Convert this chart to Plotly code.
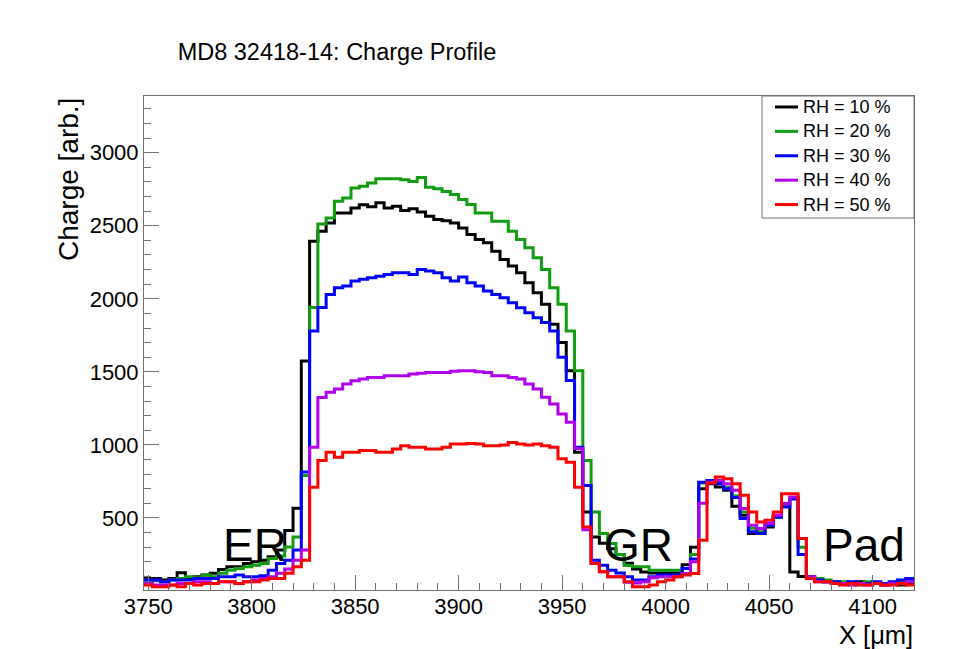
import numpy as np
import plotly.graph_objects as go

# Histogram binning (um)
x_low = 3748.0
bin_width = 4.0

# Charge per bin for each relative-humidity run
charge_rh10 = [86, 86, 75, 86, 125, 86, 98, 110, 121, 148, 166, 166, 189, 200, 211, 234, 280, 415, 566, 1575, 2394,
               2462, 2519, 2587, 2587, 2621, 2644, 2630, 2657, 2621, 2634, 2605, 2616, 2594, 2565, 2543, 2535, 2519,
               2485, 2440, 2406, 2383, 2326, 2269, 2224, 2178, 2110, 2042, 1963, 1826, 1701, 1508, 950,
               541, 370, 327, 290, 250, 190, 150, 130, 123, 123, 123, 123, 180, 300,
               700, 735, 712, 690, 580, 518, 393, 393, 439, 507, 598, 130, 100, 90,
               75, 64, 64, 52, 52, 64, 52, 52, 41, 52, 41, 52]
charge_rh20 = [75, 70, 64, 75, 86, 98, 90, 110, 98, 121, 143, 155, 166, 177, 189, 222, 240, 302, 370, 791, 1940,
               2512, 2553, 2667, 2690, 2758, 2770, 2792, 2822, 2822, 2822, 2815, 2803, 2831, 2763, 2754, 2735, 2713,
               2679, 2645, 2588, 2588, 2531, 2531, 2462, 2406, 2349, 2281, 2201, 2076, 1963, 1780, 1508,
               893, 541, 393, 325, 250, 175, 166, 166, 143, 143, 143, 143, 155, 250,
               740, 757, 740, 710, 650, 540, 430, 405, 450, 507, 590, 640, 300, 100,
               86, 75, 64, 64, 52, 52, 64, 52, 52, 52, 64, 75]
charge_rh30 = [75, 75, 64, 75, 75, 75, 86, 86, 86, 98, 98, 110, 98, 98, 105, 143, 189, 211, 280, 814, 1780,
               1940, 2030, 2076, 2087, 2121, 2133, 2144, 2155, 2167, 2178, 2178, 2167, 2201, 2190, 2178, 2144, 2121,
               2150, 2110, 2087, 2053, 2030, 2008, 1973, 1939, 1905, 1870, 1837, 1780, 1600, 1440, 984,
               723, 211, 177, 143, 123, 98, 75, 75, 98, 109, 109, 109, 155, 220,
               745, 757, 735, 700, 640, 496, 405, 393, 450, 507, 575, 630, 250, 98,
               75, 64, 64, 52, 64, 52, 52, 64, 52, 64, 75, 86]
charge_rh40 = [52, 41, 41, 41, 52, 52, 64, 64, 52, 64, 64, 52, 64, 75, 86, 98, 121, 150, 211, 280, 984,
               1325, 1360, 1383, 1417, 1439, 1451, 1462, 1462, 1473, 1473, 1473, 1485, 1490, 1496, 1496, 1496, 1505,
               1508, 1508, 1500, 1496, 1473, 1473, 1462, 1451, 1417, 1383, 1326, 1280, 1212, 1155, 975,
               420, 189, 132, 98, 98, 60, 55, 64, 90, 98, 98, 98, 120, 200,
               600, 745, 757, 735, 690, 564, 450, 428, 462, 518, 598, 643, 360, 98,
               64, 64, 52, 52, 41, 52, 41, 52, 41, 52, 52, 64]
charge_rh50 = [41, 30, 30, 41, 30, 52, 41, 52, 52, 64, 64, 52, 64, 64, 75, 86, 86, 121, 166, 211, 711,
               893, 950, 916, 950, 950, 961, 961, 950, 950, 972, 995, 984, 984, 972, 972, 984, 1006,
               1006, 1010, 1006, 995, 995, 1000, 1016, 1006, 1000, 1006, 995, 984, 905, 882, 711,
               439, 189, 132, 98, 98, 64, 30, 30, 41, 64, 75, 98, 109, 120,
               348, 740, 780, 769, 735, 655, 541, 473, 485, 541, 666, 666, 360, 86,
               64, 64, 52, 41, 52, 41, 41, 52, 41, 41, 52, 41]

series_names = ["RH = 10 %", "RH = 20 %", "RH = 30 %", "RH = 40 %", "RH = 50 %"]
series_values = [charge_rh10, charge_rh20, charge_rh30, charge_rh40, charge_rh50]
series_colors = ["#000000", "#119c11", "#0000ff", "#b000ee", "#ff0000"]

# Region labels placed on the profile
region_labels = ["ER", "GR", "Pad"]
region_x = [3785, 3969.5, 4075]
region_y = [318, 318, 318]

FONT = "Liberation Sans, Arial, Helvetica, sans-serif"
AXIS_GRAY = "#707070"

fig = go.Figure()
for name, vals, col in zip(series_names, series_values, series_colors):
    edges = x_low + bin_width * np.arange(len(vals) + 1)
    fig.add_trace(go.Scatter(
        x=edges, y=list(vals) + [vals[-1]],
        mode="lines", line=dict(shape="hv", color=col, width=3),
        name=name, showlegend=False,
    ))

for txt, xv, yv in zip(region_labels, region_x, region_y):
    fig.add_annotation(x=xv, y=yv, xref="x", yref="y", text=txt, showarrow=False,
                       xanchor="left", yanchor="middle",
                       font=dict(family=FONT, size=46, color="black"))

# Legend box (ROOT TLegend style) in the top-right corner of the frame
leg_x0, leg_x1, leg_y0, leg_y1 = 0.8026, 1.0, 0.753, 1.0
fig.add_shape(type="rect", xref="paper", yref="paper", x0=leg_x0, x1=leg_x1, y0=leg_y0, y1=leg_y1,
              line=dict(color=AXIS_GRAY, width=1), fillcolor="white", layer="above")
row_step = (leg_y1 - leg_y0) / 5.0
for k, (name, col) in enumerate(zip(series_names, series_colors)):
    yk = leg_y1 - (k + 0.5) * row_step + 0.0025
    fig.add_shape(type="line", xref="paper", yref="paper", x0=0.8195, x1=0.8494, y0=yk, y1=yk,
                  line=dict(color=col, width=3), layer="above")
    fig.add_annotation(x=0.8535, y=yk, xref="paper", yref="paper", text=name, showarrow=False,
                       xanchor="left", yanchor="middle",
                       font=dict(family=FONT, size=18, color="black"))

axis_common = dict(
    showline=True, linecolor=AXIS_GRAY, linewidth=1, mirror=True,
    ticks="inside", tickcolor=AXIS_GRAY, tickwidth=1, ticklen=15,
    showgrid=False, zeroline=False,
    tickfont=dict(family=FONT, size=22, color="black"),
)

fig.update_xaxes(range=[3748, 4120], tickmode="linear", tick0=3750, dtick=50,
                 ticklabelstandoff=-3,
                 minor=dict(dtick=10, tick0=3750, ticks="inside", ticklen=7,
                            tickcolor=AXIS_GRAY, showgrid=False),
                 **axis_common)
fig.update_yaxes(range=[7, 3388], tickmode="linear", tick0=0, dtick=500,
                 minor=dict(dtick=100, tick0=0, ticks="inside", ticklen=7,
                            tickcolor=AXIS_GRAY, showgrid=False),
                 **axis_common)

# Axis titles
fig.add_annotation(x=-0.098, y=1.0, xref="paper", yref="paper", text="Charge [arb.]",
                   textangle=-90, showarrow=False, xanchor="center", yanchor="top",
                   font=dict(family=FONT, size=28, color="black"))
fig.add_annotation(x=1.0, y=-0.091, xref="paper", yref="paper", text="X [μm]",
                   showarrow=False, xanchor="right", yanchor="middle", borderpad=0,
                   font=dict(family=FONT, size=25.5, color="black"))

fig.update_layout(
    width=975, height=649,
    margin=dict(l=144, r=61, t=96, b=59),
    paper_bgcolor="white", plot_bgcolor="white",
    title=dict(text="MD8 32418-14: Charge Profile", x=337 / 975, xanchor="center",
               xref="container", y=1 - 52 / 649, yanchor="middle", yref="container",
               font=dict(family=FONT, size=23.5, color="black")),
    showlegend=False,
)

fig.write_html("out.html")
